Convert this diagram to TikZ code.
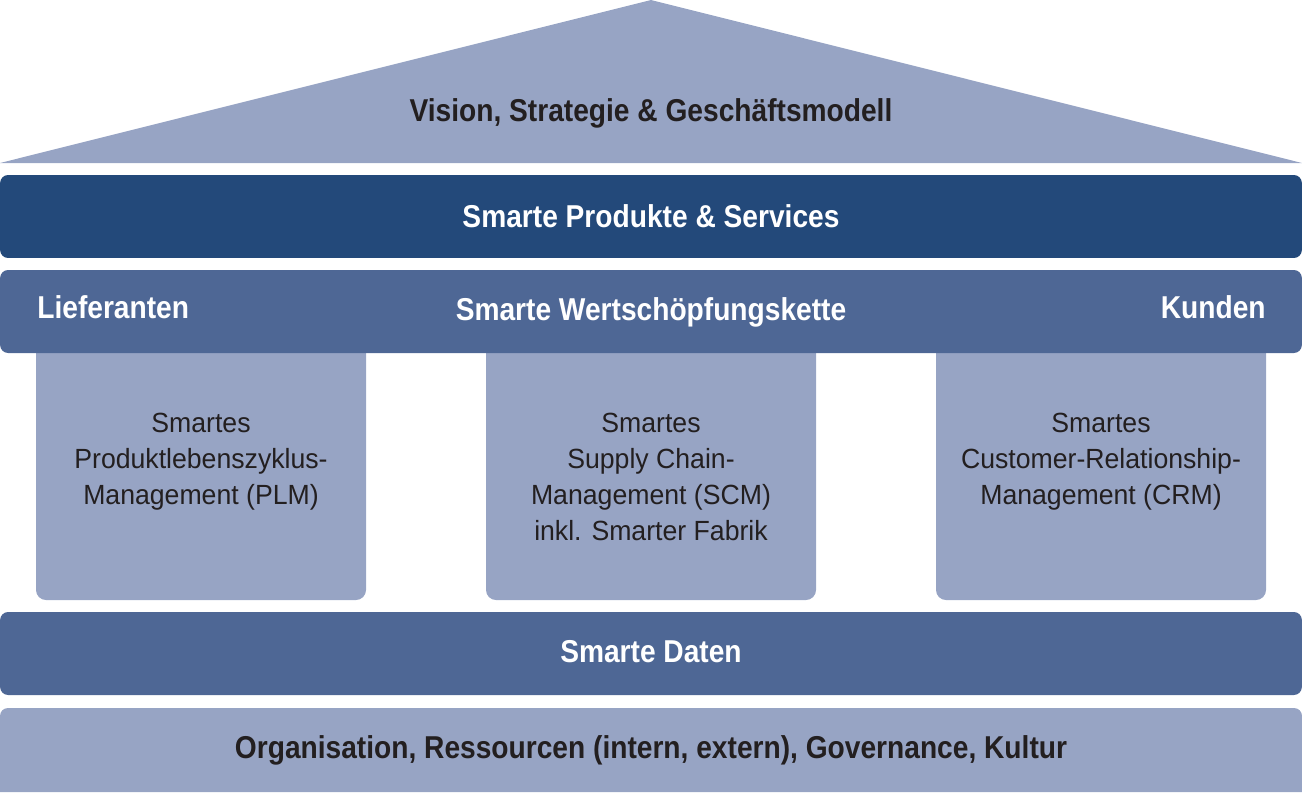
\documentclass[tikz,border=0pt]{standalone}
\usepackage{fontspec}
\setmainfont{Liberation Sans}[FakeStretch=0.89]
\newfontfamily\pillarfont{Liberation Sans}[FakeStretch=0.96]
\definecolor{darkband}{HTML}{23497A}
\definecolor{midband}{HTML}{4E6795}
\definecolor{lightband}{HTML}{97A4C4}
\definecolor{textdark}{HTML}{231F20}
\begin{document}
\begin{tikzpicture}[x=0.02cm,y=-0.02cm,
  band/.style={rectangle, rounded corners=0.16cm, minimum width=26.04cm, minimum height=1.66cm, inner sep=0pt, draw=none},
  pillarshape/.style={fill=lightband, rounded corners=0.2cm},
  title/.style={font=\fontsize{18}{21}\selectfont\bfseries, inner sep=0pt, anchor=base},
  pillartext/.style={font=\pillarfont\fontsize{15.8}{20.5}\selectfont, align=center, inner sep=0pt, anchor=north, text=textdark}]
\useasboundingbox (0,0) rectangle (1302,792);
% roof
\fill[lightband] (0,163) -- (651,0) -- (1302,163) -- cycle;
\node[title, text=textdark] (vision) at (651,121) {Vision, Strategie \& Geschäftsmodell};
% pillars
\fill[pillarshape] (36,340) rectangle (366,600);
\fill[pillarshape] (486,340) rectangle (816,600);
\fill[pillarshape] (936,340) rectangle (1266,600);
% bands
\node[band, fill=darkband] (produkte) at (651,216.5) {};
\node[band, fill=midband] (kette) at (651,311.5) {};
\node[band, fill=midband] (daten) at (651,653.5) {};
\fill[lightband, rounded corners=0.16cm] (0,792) -- (0,708) -- (1302,708) -- (1302,792);
% band texts
\node[title, text=white] (produktetext) at (651,227) {Smarte Produkte \& Services};
\node[title, text=white, anchor=base west] (lieferanten) at (37,318) {Lieferanten};
\node[title, text=white] (wertschoepfung) at (651,320) {Smarte Wertschöpfungskette};
\node[title, text=white, anchor=base east] (kunden) at (1266,318) {Kunden};
\node[title, text=white] (datentext) at (651,662) {Smarte Daten};
\node[title, text=textdark] (basistext) at (651,758) {Organisation, Ressourcen (intern, extern), Governance, Kultur};
% pillar texts
\node[pillartext] (plm) at (201,413) {Smartes\\Produktlebenszyklus-\\Management (PLM)};
\node[pillartext] (scm) at (651,413) {Smartes\\Supply Chain-\\Management (SCM)\\inkl. Smarter Fabrik};
\node[pillartext] (crm) at (1101,413) {Smartes\\Customer-Relationship-\\Management (CRM)};
\end{tikzpicture}
\end{document}
